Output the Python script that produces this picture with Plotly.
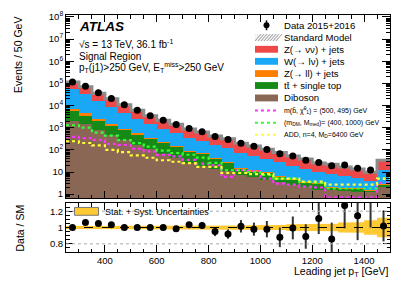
import plotly.graph_objects as go

# ---------------- data ----------------
bin_edges = [250, 300, 350, 400, 450, 500, 550, 600, 650, 700, 750, 800, 850,
             900, 950, 1000, 1050, 1100, 1150, 1200, 1250, 1300, 1350, 1400, 1450, 1500]

data = [117000, 75000, 38000, 21000, 11000, 6100, 3500, 2200, 1400, 910, 650, 405,
        290, 200, 146, 105, 67, 53, 34, 27, 19, 20.6, 14.6, 12.4, 35]
data_err = [340, 270, 195, 145, 105, 78, 59, 47, 37, 30, 25, 20, 17, 14, 12, 10,
            8.2, 7.3, 5.8, 5.2, 4.4, 4.5, 3.8, 3.5, 5.9]

diboson = [2100, 1420, 790, 490, 286, 171, 105, 66, 43, 26, 19, 13.6, 10.7, 7.1, 6.0,
           4.3, 3.4, 2.65, 2.2, 1.6, 1.5, 1.4, 1.3, 1.2, 2.2]
top = [3750, 2130, 1190, 730, 484, 317, 193, 132, 85, 53, 45, 24.7, 14.5, 6.7, 4.5,
       4.3, 2.7, 1.6, 1.14, 1.2, 0.4, 0.35, 0.4, 0.25, 0.3]
zll = [1400, 850, 430, 240, 121, 67, 38, 24, 16, 10, 6.4, 4.3, 3.2, 2.0, 1.5, 1.1,
       0.76, 0.53, 0.38, 0.24, 0.22, 0.16, 0.13, 0.09, 0.34]
wjets = [48900, 27500, 13400, 7470, 3840, 2010, 1100, 658, 425, 254, 172, 119, 88,
         57, 43, 29, 20.5, 14.3, 10.3, 6.6, 6.2, 4.5, 3.6, 2.5, 9.5]
zvv = [60800, 39100, 20200, 11370, 6270, 3540, 2065, 1320, 852, 537, 395, 264, 198,
       124, 94, 68.5, 48.6, 34, 24.3, 15.6, 14.1, 10.4, 8.2, 5.7, 21.8]

sig_sbottom = [390, 340, 280, 186, 166, 112, 85, 60, 51, 35, 24, 20, 6, 12, 11, 5,
               3, 2.7, 2.2, 2, 0.7, 0.7, 0.7, 0.7, 3.2]
sig_dm = [1290, 1000, 600, 440, 275, 200, 141, 93, 72, 60, 45, 26, 12, 12, 10, 7.4,
          5, 5, 3.5, 3.2, 1.8, 1.8, 1.8, 1.8, 5]
sig_add = [245, 204, 158, 100, 79, 56, 44, 34, 29, 25, 17, 17, 9, 9, 8, 8, 5, 5,
           3.7, 3.7, 2.7, 2.7, 2.7, 2.7, 5]

ratio = [1.0, 1.06, 1.05, 1.035, 1.0, 1.0, 1.0, 1.0, 0.985, 1.035, 1.025, 0.95, 0.92,
         1.015, 0.98, 0.98, 0.88, 0.995, 0.89, 1.11, 0.86, 1.27, 1.145, 1.40, 1.02]
ratio_err = [0.004, 0.004, 0.006, 0.008, 0.01, 0.013, 0.017, 0.021, 0.026, 0.034,
             0.04, 0.055, 0.057, 0.076, 0.08, 0.1, 0.12, 0.14, 0.15, 0.19, 0.2, 0.28,
             0.3, 0.4, 0.19]
band_unc = [0.018, 0.018, 0.018, 0.018, 0.02, 0.02, 0.022, 0.022, 0.024, 0.025, 0.026,
            0.026, 0.026, 0.026, 0.028, 0.028, 0.03, 0.04, 0.04, 0.04, 0.045, 0.06,
            0.065, 0.09, 0.12]

ytick_vals = [1, 10, 1e2, 1e3, 1e4, 1e5, 1e6, 1e7, 1e8]
ytick_text = ["1", "10", "10<sup>2</sup>", "10<sup>3</sup>", "10<sup>4</sup>",
              "10<sup>5</sup>", "10<sup>6</sup>", "10<sup>7</sup>", "10<sup>8</sup>"]
xtick_vals = [400, 600, 800, 1000, 1200, 1400]
rtick_vals = [0.8, 1.0, 1.2]
rtick_text = ["0.8", "1", "1.2"]

# ---------------- styling ----------------
FONT = "Liberation Sans, Arial, sans-serif"
W, H = 415, 285
ML, MR, MT, MB = 66, 25, 10, 33
PW, PH = W - ML - MR, H - MT - MB


def px(x):
    return (x - ML) / PW


def py(y):
    return (H - MB - y) / PH


centers = [(a + b) / 2 for a, b in zip(bin_edges[:-1], bin_edges[1:])]
widths = [b - a for a, b in zip(bin_edges[:-1], bin_edges[1:])]
sm_total = [a + b + c + d + e for a, b, c, d, e in zip(diboson, top, zll, wjets, zvv)]

C_ZVV, C_W, C_ZLL, C_TOP, C_DIB = "#ee4848", "#18a8f5", "#ff8000", "#168a16", "#8a6655"

fig = go.Figure()

for name, vals, col in [("Diboson", diboson, C_DIB), ("top", top, C_TOP),
                        ("Zll", zll, C_ZLL), ("W", wjets, C_W), ("Zvv", zvv, C_ZVV)]:
    fig.add_trace(go.Bar(x=centers, y=vals, width=widths, marker=dict(color=col, line=dict(width=0)),
                         xaxis="x", yaxis="y", showlegend=False, name=name))


def step(vals):
    return bin_edges, list(vals) + [vals[-1]]


sx, sy = step(sm_total)
fig.add_trace(go.Scatter(x=sx, y=sy, mode="lines", line=dict(shape="hv", color="#8c8c8c", width=3),
                         xaxis="x", yaxis="y", showlegend=False))

for vals, col in [(sig_sbottom, "#ff33ff"), (sig_dm, "#33ff33"), (sig_add, "#ffff33")]:
    gx, gy = step(vals)
    fig.add_trace(go.Scatter(x=gx, y=gy, mode="lines", line=dict(shape="hv", color=col, width=2.2, dash="dot"),
                             xaxis="x", yaxis="y", showlegend=False))

fig.add_trace(go.Scatter(x=centers[:-1], y=data[:-1], mode="markers",
                         marker=dict(color="black", size=7),
                         error_y=dict(type="data", array=data_err[:-1], color="black", width=0, thickness=1.5),
                         xaxis="x", yaxis="y", showlegend=False))

# ratio band
bx, by_up, by_lo = [], [], []
for a, b, u in zip(bin_edges[:-1], bin_edges[1:], band_unc):
    bx += [a, b]
    by_up += [1 + u, 1 + u]
    by_lo += [1 - u, 1 - u]
fig.add_trace(go.Scatter(x=bx + bx[::-1], y=by_up + by_lo[::-1], mode="lines", fill="toself",
                         fillcolor="#ffc933", line=dict(width=0), xaxis="x2", yaxis="y2", showlegend=False))

fig.add_trace(go.Scatter(x=centers, y=ratio, mode="markers", marker=dict(color="black", size=7),
                         error_y=dict(type="data", array=ratio_err, color="#333333", width=0, thickness=2),
                         xaxis="x2", yaxis="y2", showlegend=False))

shapes = []
for yv, dash, col in [(0.8, "dot", "#aaaaaa"), (1.2, "dot", "#aaaaaa"), (1.0, "dash", "black")]:
    shapes.append(dict(type="line", xref="x2", yref="y2", x0=bin_edges[0], x1=bin_edges[-1], y0=yv, y1=yv,
                       line=dict(color=col, width=1, dash=dash)))

annotations = []


def text(x, y, s, size=10, xanchor="left", **kw):
    annotations.append(dict(x=px(x), y=py(y), xref="paper", yref="paper", text=s, showarrow=False,
                            xanchor=xanchor, yanchor="middle", font=dict(family=FONT, size=size, color="black"), **kw))


# top-left labels
text(77, 22, "<b><i>ATLAS</i></b>", size=13.5)
text(77, 40, "√s = 13 TeV, 36.1 fb<sup>-1</sup>", size=10)
text(77, 52, "Signal Region", size=10)
text(77, 63.5, "p<sub>T</sub>(j1)>250 GeV, E<sub>T</sub><sup>miss</sup>>250 GeV", size=10)

# legend
rows = [20.5, 33.0, 45.0, 57.3, 69.8, 82.0, 94.7, 107.5, 120.0, 132.3]
sw0, sw1, tx = 255, 278, 282
labels = ["Data 2015+2016", "Standard Model", "Z(→ νν) + jets", "W(→ lν) + jets", "Z(→ ll) + jets",
          "tt\u0304 + single top", "Diboson"]
for r, lab in zip(rows[:7], labels):
    text(tx, r, lab, size=9.6)
small = ["m(b\u0303, χ\u0303<sup>0</sup><sub>1</sub>) = (500, 495) GeV",
         "(m<sub>DM</sub>, M<sub>med</sub>)= (400, 1000) GeV",
         "ADD, n=4, M<sub>D</sub>=6400 GeV"]
for r, lab in zip(rows[7:], small):
    text(tx, r, lab, size=7)

# data marker in legend
shapes.append(dict(type="line", xref="paper", yref="paper", x0=px(266.5), x1=px(266.5), y0=py(rows[0] - 5),
                   y1=py(rows[0] + 5), line=dict(color="black", width=1.5)))
shapes.append(dict(type="circle", xref="paper", yref="paper", x0=px(263.5), x1=px(269.5), y0=py(rows[0] - 3),
                   y1=py(rows[0] + 3), fillcolor="black", line=dict(width=0)))
# SM hatched swatch
shapes.append(dict(type="rect", xref="paper", yref="paper", x0=px(sw0), x1=px(sw1), y0=py(rows[1] - 3.5),
                   y1=py(rows[1] + 3.5), fillcolor="#f2f2f2", line=dict(width=0)))
for k in range(8):
    xa = sw0 + k * 3
    shapes.append(dict(type="line", xref="paper", yref="paper", x0=px(xa), x1=px(xa + 6), y0=py(rows[1] + 3.5),
                       y1=py(rows[1] - 3.5), line=dict(color="#9a9a9a", width=1)))
for r, col in zip(rows[2:7], [C_ZVV, C_W, C_ZLL, C_TOP, C_DIB]):
    shapes.append(dict(type="rect", xref="paper", yref="paper", x0=px(sw0), x1=px(sw1), y0=py(r - 3.5),
                       y1=py(r + 3.5), fillcolor=col, line=dict(width=0)))
for r, col in zip(rows[7:], ["#ff33ff", "#33ff33", "#ffff33"]):
    shapes.append(dict(type="line", xref="paper", yref="paper", x0=px(sw0), x1=px(sw1), y0=py(r), y1=py(r),
                       line=dict(color=col, width=2.2, dash="dot")))

# ratio legend
shapes.append(dict(type="rect", xref="paper", yref="paper", x0=px(74.5), x1=px(98.5), y0=py(206.5), y1=py(214.5),
                   fillcolor="#ffc933", line=dict(color="#777777", width=1)))
text(103, 210.8, "Stat. + Syst. Uncertainties", size=9)

# axis titles
TITLE_FONT = dict(family=FONT, size=10.5, color="black")
annotations.append(dict(x=px(18), y=py(10), xref="paper", yref="paper", text="Events / 50 GeV", showarrow=False,
                        textangle=-90, xanchor="center", yanchor="top", font=TITLE_FONT))
annotations.append(dict(x=px(20), y=py(228), xref="paper", yref="paper", text="Data / SM", showarrow=False,
                        textangle=-90, xanchor="center", yanchor="middle", font=TITLE_FONT))
annotations.append(dict(x=px(390), y=py(272), xref="paper", yref="paper", text="Leading jet p<sub>T</sub> [GeV]",
                        showarrow=False, xanchor="right", yanchor="middle", font=TITLE_FONT))

axis_common = dict(showline=True, linecolor="black", linewidth=1, mirror="allticks", ticks="inside",
                   tickcolor="black", showgrid=False, zeroline=False, tickfont=dict(family=FONT, size=9.5, color="black"))

fig.update_layout(
    width=W, height=H, margin=dict(l=ML, r=MR, t=MT, b=MB),
    paper_bgcolor="white", plot_bgcolor="white", barmode="stack", bargap=0, showlegend=False,
    font=dict(family=FONT, color="black"),
    xaxis=dict(domain=[0, 1], anchor="y", range=[bin_edges[0], bin_edges[-1]], tickvals=xtick_vals,
               showticklabels=False, ticklen=7, minor=dict(ticks="inside", dtick=50, tick0=0, ticklen=3.5, tickcolor="black"),
               **axis_common),
    yaxis=dict(domain=[py(197), 1], anchor="x", type="log", range=[-0.18, 8.09], tickvals=ytick_vals,
               ticktext=ytick_text, ticklen=8, minor=dict(ticks="inside", dtick="D1", ticklen=4, tickcolor="black"),
               **axis_common),
    xaxis2=dict(domain=[0, 1], anchor="y2", range=[bin_edges[0], bin_edges[-1]], tickvals=xtick_vals,
                ticklen=7, minor=dict(ticks="inside", dtick=50, tick0=0, ticklen=3.5, tickcolor="black"),
                **axis_common),
    yaxis2=dict(domain=[0, py(202)], anchor="x2", range=[0.7, 1.3], tickvals=rtick_vals, ticktext=rtick_text,
                ticklen=7, minor=dict(ticks="inside", dtick=0.05, tick0=0, ticklen=3.5, tickcolor="black"),
                **axis_common),
    shapes=shapes, annotations=annotations,
)

fig.write_html("out.html", config={"displayModeBar": False, "staticPlot": True},
               post_script="document.body.style.margin='0px';document.body.style.overflow='hidden';")
